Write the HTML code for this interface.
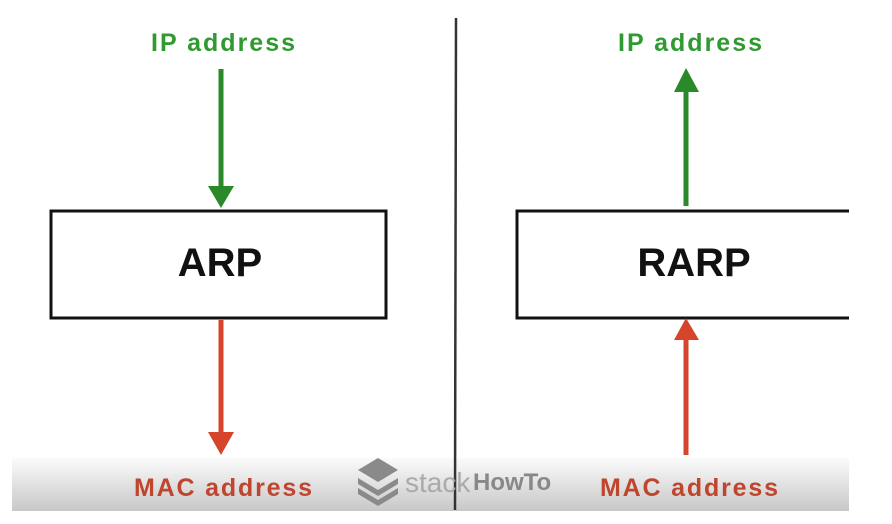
<!DOCTYPE html>
<html><head><style>
html,body{margin:0;padding:0;background:#fff;}
body{width:892px;height:524px;position:relative;overflow:hidden;font-family:"Liberation Sans",sans-serif;}
.band{position:absolute;left:12px;top:458px;width:837px;height:53px;background:linear-gradient(#fbfbfb,#dcdcdc 60%,#c8c8c8);}
</style></head><body>
<div class="band"></div>
<svg width="892" height="524" style="position:absolute;left:0;top:0" font-family="Liberation Sans, sans-serif" font-weight="bold">
<line x1="456" y1="18" x2="455" y2="510" stroke="#333" stroke-width="2.5"/>
<rect x="51" y="211" width="335" height="107" fill="#fff" stroke="#111" stroke-width="3"/>
<rect x="517" y="211" width="340" height="107" fill="#fff" stroke="#111" stroke-width="3"/>
<rect x="849" y="0" width="43" height="524" fill="#fff"/>
<text x="220" y="276" font-size="40" text-anchor="middle" fill="#111">ARP</text>
<text x="694" y="276" font-size="40" text-anchor="middle" fill="#111">RARP</text>
<g fill="#2a8a2a" stroke="#2a8a2a">
<line x1="221" y1="69" x2="221" y2="190" stroke-width="5"/>
<polygon points="208,186 234,186 221,208" stroke="none"/>
<line x1="686" y1="206" x2="686" y2="88" stroke-width="5"/>
<polygon points="674,92 699,92 686,68" stroke="none"/>
</g>
<g fill="#d5452b" stroke="#d5452b">
<line x1="221" y1="320" x2="221" y2="436" stroke-width="5"/>
<polygon points="208,432 234,432 221,455" stroke="none"/>
<line x1="686" y1="455" x2="686" y2="336" stroke-width="5"/>
<polygon points="674,340 699,340 686,318" stroke="none"/>
</g>
<text x="223" y="51" font-size="25" text-anchor="middle" fill="#2f9a2f" textLength="144">IP address</text>
<text x="690" y="51" font-size="25" text-anchor="middle" fill="#2f9a2f" textLength="144">IP address</text>
<text x="223" y="496" font-size="25" text-anchor="middle" fill="#c0452f" textLength="178">MAC address</text>
<text x="689" y="496" font-size="25" text-anchor="middle" fill="#c0452f" textLength="178">MAC address</text>
<g fill="#8a8a8a">
<polygon points="378,458 398,470 378,482 358,470"/>
<polygon points="358,478 378,490 398,478 398,484 378,496 358,484"/>
<polygon points="358,488 378,500 398,488 398,494 378,506 358,494"/>
</g>
<text x="405" y="492" font-size="28" font-weight="normal" fill="#aaa">stack</text>
<text x="473" y="490" font-size="24" fill="#888">HowTo</text>
</svg>
</body></html>
